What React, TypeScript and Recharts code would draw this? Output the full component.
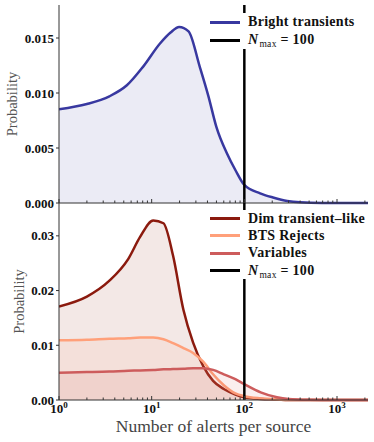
import React from "react";
import {
  AreaChart,
  Area,
  XAxis,
  YAxis,
  ReferenceLine,
} from "recharts";

// top panel: bright transients
const brightX = [1, 2, 3.5, 5.4, 8.1, 12.3, 16, 19.8, 25, 33, 41, 50, 65, 80, 100, 148, 204, 290, 400, 700, 2160];
const brightP = [
  0.00852, 0.009, 0.0097, 0.0107, 0.0124, 0.0145, 0.0155, 0.016, 0.0156, 0.0124, 0.0097, 0.0069, 0.0045,
  0.003, 0.00164, 0.00088, 0.0005, 0.00018, 0.00006, 0.00001, 0,
];

// bottom panel
const bottomX = [1, 2, 3.5, 5.6, 7.5, 10.4, 13.4, 17, 22, 28, 36, 46, 60, 80, 100, 150, 225, 300, 500, 1000, 2160];
const dimP = [
  0.0171, 0.0189, 0.0218, 0.0258, 0.0298, 0.0328, 0.0323, 0.0264, 0.0165, 0.0105, 0.0062, 0.0035, 0.002,
  0.001, 0.0005, 0.0002, 0.0001, 0, 0, 0, 0,
];
const btsP = [
  0.0109, 0.011, 0.0112, 0.0113, 0.0114, 0.0114, 0.0111, 0.0104, 0.0095, 0.0086, 0.007, 0.0047, 0.0027,
  0.0012, 0.0007, 0.0003, 0.0001, 0, 0, 0, 0,
];
const varP = [
  0.005, 0.0051, 0.0052, 0.00535, 0.0054, 0.0055, 0.0056, 0.00565, 0.0057, 0.0058, 0.0058, 0.0055, 0.0047,
  0.0038, 0.0029, 0.0014, 0.0005, 0.0002, 0.00005, 0, 0,
];

const xTicks = [1, 2, 3, 4, 5, 6, 7, 8, 9, 10, 20, 30, 40, 50, 60, 70, 80, 90, 100, 200, 300, 400, 500, 600, 700, 800, 900, 1000, 2000];
const topYTicks = [0, 0.005, 0.01, 0.015];
const bottomYTicks = [0, 0.01, 0.02, 0.03];
const nMax = 100;

const topData = brightX.map((x, i) => ({ x, bright: brightP[i] }));
const bottomData = bottomX.map((x, i) => ({ x, dim: dimP[i], bts: btsP[i], vars: varP[i] }));

const FONT = "Liberation Serif, DejaVu Serif, serif";
const FRAME = "#333";

const topSeries = [{ key: "bright", name: "Bright transients", color: "#3838a0" }];
const bottomSeries = [
  { key: "dim", name: "Dim transient\u2013like", color: "#8b1a0e" },
  { key: "bts", name: "BTS Rejects", color: "#ffa07a" },
  { key: "vars", name: "Variables", color: "#cd5c5c" },
];

function LogTick(props: any) {
  const { x, y, payload, showLabel } = props;
  const lg = Math.log10(payload.value);
  const exp = Math.round(lg);
  const major = Math.abs(lg - exp) < 1e-6;
  return (
    <g>
      <line x1={x} x2={x} y1={y} y2={y - (major ? 4 : 2.5)} stroke={FRAME} strokeWidth={1} />
      {showLabel && major && (
        <text
          x={x}
          y={y + 13}
          textAnchor="middle"
          fill="#111"
          style={{ fontFamily: FONT, fontWeight: 700, fontSize: 13 }}
        >
          10
          <tspan dy={-5} style={{ fontSize: 9 }}>
            {exp}
          </tspan>
        </text>
      )}
    </g>
  );
}

const yLabel = (cx: number) => (props: any) => {
  const vb = props.viewBox;
  const cy = vb.y + vb.height / 2;
  return (
    <text
      x={cx}
      y={cy}
      transform={`rotate(-90 ${cx} ${cy})`}
      textAnchor="middle"
      dominantBaseline="central"
      fill="#555"
      style={{ fontFamily: FONT, fontSize: 14.5 }}
    >
      Probability
    </text>
  );
};

// legend box drawn over the plot; the frame is white at 80 % like matplotlib's
function LegendBox({
  series,
  rowH,
  top,
}: {
  series: { name: string; color: string }[];
  rowH: number;
  top: number;
}) {
  const row = (color: string, label: React.ReactNode, k: string) => (
    <div key={k} style={{ display: "flex", alignItems: "center", height: rowH }}>
      <div style={{ width: 30, height: 3, background: color, marginLeft: 5, marginRight: 8 }} />
      <div style={{ whiteSpace: "nowrap" }}>{label}</div>
    </div>
  );
  return (
    <div
      style={{
        position: "absolute",
        left: 205,
        top,
        zIndex: 1000,
        width: 162,
        height: rowH * (series.length + 1),
        backgroundColor: "#ffffff",
        opacity: 1,
        fontFamily: FONT,
        fontWeight: 700,
        fontSize: 14,
        letterSpacing: 0.3,
        color: "#111",
        lineHeight: 1,
      }}
    >
      {series.map((s) => row(s.color, s.name, s.name))}
      {row(
        "#000",
        <span>
          <i>N</i>
          <span style={{ fontSize: 9.5, fontWeight: 400, fontStyle: "normal", position: "relative", top: 3, marginLeft: 1 }}>
            max
          </span>
          {" = 100"}
        </span>,
        "nmax"
      )}
    </div>
  );
}

const tickStyle = { fill: "#111", fontSize: 13, fontWeight: 700, fontFamily: FONT };

export default function App() {
  return (
    <div
      style={{ position: "absolute", left: 0, top: 0, width: 374, height: 442, background: "#fff", fontFamily: FONT }}
    >
      <div style={{ position: "absolute", left: 0, top: 0, zIndex: 0 }}>
        <AreaChart width={374} height={212} data={topData} margin={{ top: 5, right: 6, bottom: 0, left: 0 }}>
          <XAxis
            dataKey="x"
            type="number"
            scale="log"
            domain={[1, 2160]}
            allowDataOverflow
            ticks={xTicks}
            interval={0}
            height={9}
            tickSize={0}
            tickMargin={0}
            tickLine={false}
            axisLine={{ stroke: FRAME }}
            tick={<LogTick showLabel={false} />}
          />
          <XAxis xAxisId="top" orientation="top" height={0} tick={false} axisLine={{ stroke: FRAME }} />
          <YAxis
            domain={[0, 0.018]}
            ticks={topYTicks}
            interval={0}
            width={59}
            tickSize={3}
            tickMargin={2}
            axisLine={{ stroke: FRAME }}
            tickLine={{ stroke: FRAME }}
            tick={tickStyle}
            tickFormatter={(v: number) => v.toFixed(3)}
            label={{ content: yLabel(12) }}
          />
          <YAxis yAxisId="right" orientation="right" width={0} tick={false} axisLine={{ stroke: FRAME }} />
          {topSeries.map((s) => (
            <Area
              key={s.key}
              type="monotone"
              dataKey={s.key}
              name={s.name}
              stroke={s.color}
              strokeWidth={2.5}
              fill={s.color}
              fillOpacity={0.1}
              dot={false}
              activeDot={false}
              isAnimationActive={false}
            />
          ))}
          <ReferenceLine x={nMax} stroke="#000" strokeWidth={2.5} />
        </AreaChart>
      </div>
      <div style={{ position: "absolute", left: 0, top: 203, zIndex: 0 }}>
        <AreaChart width={374} height={239} data={bottomData} margin={{ top: 0, right: 6, bottom: 0, left: 0 }}>
          <XAxis
            dataKey="x"
            type="number"
            scale="log"
            domain={[1, 2160]}
            allowDataOverflow
            ticks={xTicks}
            interval={0}
            height={42}
            tickSize={0}
            tickMargin={0}
            tickLine={false}
            axisLine={{ stroke: FRAME }}
            tick={<LogTick showLabel />}
            label={{
              value: "Number of alerts per source",
              position: "insideBottom",
              offset: 10,
              fill: "#444",
              style: { fontSize: 17.5, fontFamily: FONT },
            }}
          />
          <XAxis xAxisId="top" orientation="top" height={0} tick={false} axisLine={{ stroke: FRAME }} />
          <YAxis
            domain={[0, 0.036]}
            ticks={bottomYTicks}
            interval={0}
            width={59}
            tickSize={3}
            tickMargin={2}
            axisLine={{ stroke: FRAME }}
            tickLine={{ stroke: FRAME }}
            tick={tickStyle}
            tickFormatter={(v: number) => v.toFixed(2)}
            label={{ content: yLabel(19) }}
          />
          <YAxis yAxisId="right" orientation="right" width={0} tick={false} axisLine={{ stroke: FRAME }} />
          {bottomSeries.map((s) => (
            <Area
              key={s.key}
              type="monotone"
              dataKey={s.key}
              name={s.name}
              stroke={s.color}
              strokeWidth={2.5}
              fill={s.color}
              fillOpacity={0.1}
              dot={false}
              activeDot={false}
              isAnimationActive={false}
            />
          ))}
          <ReferenceLine x={nMax} stroke="#000" strokeWidth={2.5} />
        </AreaChart>
      </div>
      <LegendBox series={topSeries} rowH={18} top={13} />
      <LegendBox series={bottomSeries} rowH={17.3} top={210} />
    </div>
  );
}
